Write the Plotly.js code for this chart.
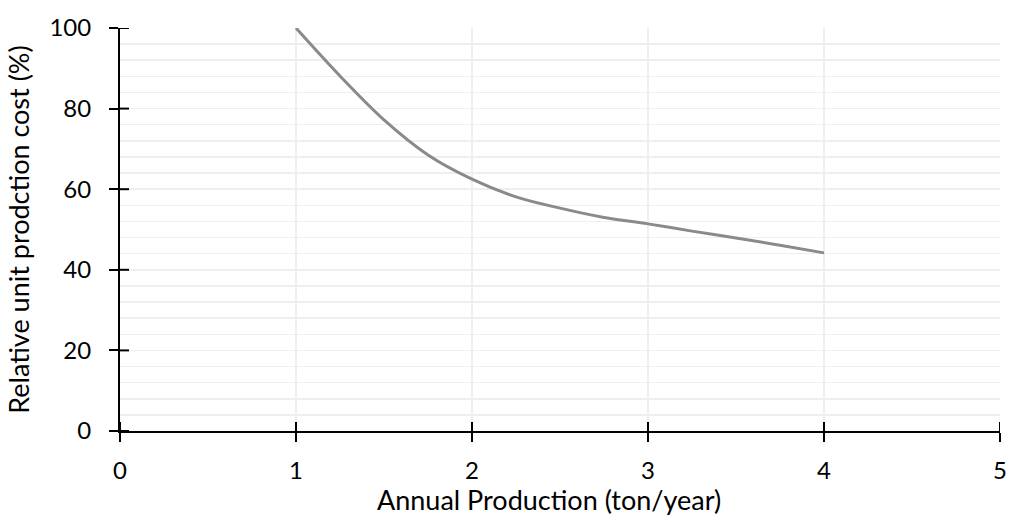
<!DOCTYPE html>
<html>
<head>
<meta charset="utf-8">
<script src="https://cdn.plot.ly/plotly-3.0.1.min.js"></script>
<style>html,body{margin:0;padding:0;background:#fff;}#chart{width:1009px;height:522px;}</style>
</head>
<body>
<div id="chart"></div>
<script>
const production = [1, 1.25, 1.5, 1.75, 2, 2.25, 2.5, 2.75, 3, 3.25, 3.5, 3.75, 4];
const relativeCost = [100, 88.1, 77.2, 68.5, 62.5, 58.1, 55.3, 53.0, 51.4, 49.6, 47.9, 46.1, 44.2];
const xTickVals = [0, 1, 2, 3, 4, 5];
const yTickVals = [0, 20, 40, 60, 80, 100];
const xTitle = 'Annual Production (ton/year)';
const yTitle = 'Relative unit prodction cost (%)';

const FONT = 'Lato, "Open Sans", sans-serif';
const traces = [{
  x: production, y: relativeCost, type: 'scatter', mode: 'lines',
  line: {color: '#8a8a8a', width: 3, shape: 'spline', smoothing: 1},
  hoverinfo: 'skip', showlegend: false
}];

// inner half of the crossing tick marks (outer half is drawn by the axes)
const tickShapes = [];
xTickVals.forEach(v => tickShapes.push({
  type: 'line', xref: 'x', yref: 'y', ysizemode: 'pixel', yanchor: yTickVals[0],
  x0: v, x1: v, y0: 0, y1: 9, line: {color: '#000', width: 2}, layer: 'above'
}));
yTickVals.forEach(v => tickShapes.push({
  type: 'line', xref: 'x', yref: 'y', xsizemode: 'pixel', xanchor: xTickVals[0],
  y0: v, y1: v, x0: 0, x1: 9, line: {color: '#000', width: 2}, layer: 'above'
}));

const layout = {
  width: 1009, height: 522,
  margin: {l: 120, r: 9, t: 28, b: 91},
  paper_bgcolor: '#ffffff', plot_bgcolor: '#ffffff',
  font: {family: FONT, size: 24, color: '#000000'},
  showlegend: false,
  xaxis: {
    range: [0, 5], tickvals: xTickVals,
    showline: true, linecolor: '#000', linewidth: 2,
    ticks: 'outside', ticklen: 9, tickwidth: 2, tickcolor: '#000',
    showgrid: true, gridcolor: '#efefef', gridwidth: 1.5,
    zeroline: false, ticklabelstandoff: 8,
    tickfont: {family: FONT, size: 24, color: '#000'}
  },
  yaxis: {
    range: [0, 100], tickvals: yTickVals,
    showline: true, linecolor: '#000', linewidth: 2,
    ticks: 'outside', ticklen: 9, tickwidth: 2, tickcolor: '#000',
    showgrid: true, gridcolor: '#efefef', gridwidth: 1.5,
    minor: {dtick: 4, tick0: 0, showgrid: true, gridcolor: '#efefef', gridwidth: 1.5, ticks: ''},
    zeroline: false, ticklabelstandoff: 13,
    tickfont: {family: FONT, size: 24, color: '#000'},
    title: {text: yTitle, font: {family: FONT, size: 27, color: '#000'}, standoff: 12}
  },
  shapes: tickShapes,
  annotations: [{
    text: xTitle, xref: 'paper', yref: 'paper', x: 0.487, y: 0,
    xanchor: 'center', yanchor: 'top', yshift: -50, showarrow: false,
    font: {family: FONT, size: 27, color: '#000'}
  }]
};

Plotly.newPlot('chart', traces, layout, {displayModeBar: false, staticPlot: true});
</script>
</body>
</html>
